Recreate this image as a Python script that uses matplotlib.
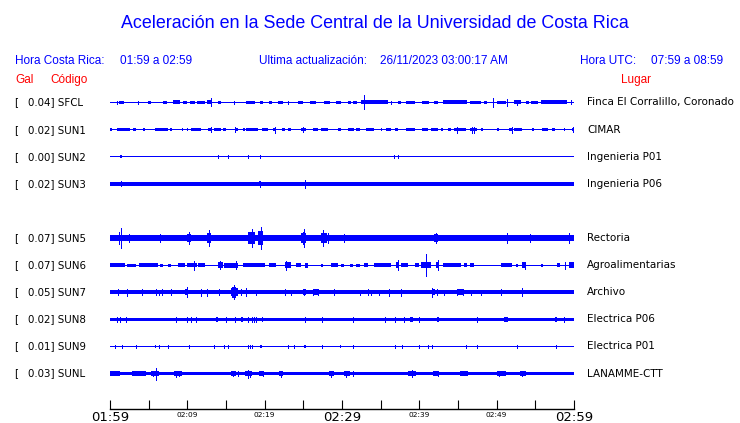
import matplotlib
matplotlib.use("Agg")
import matplotlib.pyplot as plt
import matplotlib.transforms as mtransforms

# --- Estaciones (de arriba hacia abajo, la fila 4 queda vacia) ---
codigos = ["SFCL", "SUN1", "SUN2", "SUN3", "SUN5", "SUN6", "SUN7", "SUN8", "SUN9", "SUNL"]
filas = [0, 1, 2, 3, 5, 6, 7, 8, 9, 10]
gal = [0.04, 0.02, 0.00, 0.02, 0.07, 0.07, 0.05, 0.02, 0.01, 0.03]
lugares = ["Finca El Corralillo, Coronado", "CIMAR", "Ingenieria P01", "Ingenieria P06",
           "Rectoria", "Agroalimentarias", "Archivo", "Electrica P06", "Electrica P01",
           "LANAMME-CTT"]

# amplitud de fondo de cada traza (semi-altura, px)
fondo = [0.5, 0.5, 0.5, 1.8, 2.6, 0.5, 2.0, 1.8, 0.5, 1.8]

# rafagas: (minuto inicio, minuto fin, semi-amplitud)
sfcl_raf = [(1.2, 1.8, 1.8), (4.9, 5.3, 1.8), (6.9, 7.4, 1.8), (8.2, 9.0, 2.0), (9.5, 9.9, 1.8),
            (10.3, 11.0, 1.8), (11.2, 12.3, 1.8), (12.5, 13.2, 2.0), (14.0, 14.3, 1.6),
            (17.6, 18.7, 1.8), (19.4, 19.8, 1.8), (20.5, 20.9, 1.6), (21.7, 22.4, 1.8),
            (24.3, 24.9, 1.8), (25.8, 26.7, 1.8), (27.7, 28.4, 1.6), (29.2, 29.9, 1.8),
            (30.8, 31.2, 1.8), (31.4, 32.0, 1.8), (32.5, 35.9, 2.0), (37.2, 37.6, 1.8),
            (38.3, 39.4, 1.8), (40.4, 41.3, 1.8), (41.9, 42.4, 1.6), (43.0, 46.2, 2.0),
            (46.5, 48.0, 1.8), (48.4, 48.8, 1.6), (50.1, 51.2, 1.8), (52.3, 53.1, 2.0),
            (53.8, 54.2, 1.6), (54.4, 55.3, 1.8), (55.7, 59.1, 2.0)]
sfcl_pic = [(0.9, 1.6), (3.6, 1.6), (13.0, 4.0), (16.0, 1.6), (23.0, 1.6), (32.9, 7.0),
            (36.4, 1.6), (49.5, 4.5), (51.4, 3.5), (52.6, 2.5), (59.6, 2.0)]

sun1_raf = [(0.0, 0.2, 1.6), (0.9, 2.6, 1.6), (3.0, 3.4, 1.6), (4.3, 4.5, 1.6), (5.8, 7.5, 1.6),
            (7.7, 8.0, 1.6), (9.3, 9.5, 1.6), (9.9, 10.1, 1.6), (10.5, 11.8, 1.6),
            (12.7, 13.1, 1.6), (13.5, 14.4, 1.6), (14.6, 15.0, 1.6), (16.1, 16.6, 1.6),
            (17.2, 17.4, 1.6), (17.6, 19.1, 1.6), (19.6, 20.4, 1.6), (21.1, 21.3, 1.6),
            (22.2, 22.6, 1.6), (23.0, 23.4, 1.6), (24.7, 25.4, 1.6), (26.2, 26.9, 1.6),
            (27.3, 28.2, 1.6), (29.5, 29.9, 1.6), (30.8, 31.6, 1.6), (31.8, 32.3, 1.6),
            (33.1, 34.2, 1.6), (35.0, 35.2, 1.6), (35.7, 36.3, 1.6), (36.8, 37.2, 1.6),
            (38.3, 39.4, 1.6), (40.4, 41.1, 1.6), (41.5, 42.4, 1.6), (42.8, 43.0, 1.6),
            (43.7, 44.1, 1.6), (44.5, 46.0, 1.8), (46.5, 47.5, 1.8), (48.0, 48.2, 1.6),
            (50.1, 50.3, 1.6), (51.6, 52.0, 1.6), (52.3, 53.3, 1.6), (54.6, 54.8, 1.6),
            (55.9, 56.6, 1.6), (57.2, 57.6, 1.6), (58.7, 58.9, 1.6), (59.8, 60.0, 1.6)]
sun1_pic = [(13.0, 2.5), (16.2, 2.5), (21.3, 3.0), (25.0, 2.5), (44.9, 3.0), (46.8, 3.0),
            (47.1, 3.0), (52.0, 3.0), (59.9, 2.5)]

sun2_raf = [(1.3, 1.5, 1.5)]
sun2_pic = [(14.0, 1.2), (15.2, 1.2), (17.8, 1.2), (19.4, 1.6), (36.7, 1.2), (37.3, 1.2)]

sun3_raf = [(19.3, 19.5, 2.3)]
sun3_pic = [(1.4, 2.5), (19.4, 3.0), (25.2, 4.0)]

sun5_raf = [(0.0, 2.0, 3.3), (2.2, 3.5, 3.0), (5.8, 7.1, 3.4), (9.9, 10.5, 4.0), (12.5, 13.1, 5.0),
            (16.3, 16.8, 3.3), (17.8, 18.7, 6.0), (19.1, 19.8, 7.0), (20.0, 21.0, 3.3),
            (24.7, 25.4, 5.0), (27.3, 28.0, 5.0), (29.9, 30.5, 3.3), (33.5, 34.0, 3.0),
            (37.3, 38.0, 3.0), (41.9, 42.4, 4.0), (45.3, 45.8, 3.3), (50.7, 51.5, 3.3),
            (53.0, 53.4, 3.3), (59.0, 60.0, 3.3)]
sun5_pic = [(1.4, 10.0), (1.1, 6.0), (2.5, 4.0), (6.5, 4.0), (10.2, 6.0), (12.8, 8.0),
            (18.3, 9.0), (19.5, 11.0), (24.9, 6.0), (25.1, 9.0), (27.5, 8.0), (28.2, 5.0),
            (30.2, 4.0), (42.1, 5.0), (51.4, 5.0), (54.3, 4.0), (59.4, 5.0)]

sun6_raf = [(0.0, 2.0, 1.8), (2.2, 3.4, 1.5), (3.7, 6.2, 1.8), (6.5, 6.9, 1.5), (7.5, 7.9, 1.5),
            (8.8, 9.7, 2.0), (9.9, 11.2, 2.0), (11.4, 12.3, 2.0), (14.0, 14.6, 3.0),
            (14.8, 16.6, 2.5), (17.2, 20.0, 1.8), (20.6, 21.5, 1.8), (22.6, 23.4, 3.0),
            (24.1, 24.7, 2.0), (25.2, 25.6, 2.5), (27.3, 27.5, 1.5), (28.6, 29.5, 2.0),
            (29.9, 30.3, 1.5), (31.0, 31.4, 1.5), (31.8, 32.3, 1.5), (32.9, 33.3, 2.0),
            (34.2, 36.3, 2.0), (37.0, 37.4, 3.0), (37.6, 38.5, 2.0), (39.4, 40.0, 2.0),
            (40.2, 41.5, 3.0), (42.2, 42.6, 3.0), (43.0, 45.4, 1.8), (45.8, 46.2, 1.8),
            (46.5, 47.1, 1.8), (50.5, 52.0, 2.0), (52.5, 52.7, 1.5), (53.3, 53.8, 3.0),
            (55.7, 56.0, 1.5), (57.8, 58.2, 2.0), (59.4, 60.0, 3.0)]
sun6_pic = [(10.9, 4.5), (14.2, 4.0), (16.3, 4.0), (22.8, 4.5), (37.2, 5.0), (40.9, 11.0),
            (42.4, 5.0), (53.6, 3.5), (58.9, 3.5)]

sun7_raf = [(9.7, 10.1, 3.0), (15.6, 16.5, 4.0), (15.8, 16.3, 5.5), (25.0, 25.3, 2.8),
            (26.2, 26.9, 2.8), (41.6, 42.0, 3.0), (44.9, 45.6, 2.8)]
sun7_pic = [(1.0, 3.0), (2.2, 3.5), (4.1, 3.0), (6.0, 3.0), (6.4, 2.5), (6.7, 3.0), (7.9, 3.0),
            (9.9, 5.0), (11.8, 3.5), (12.5, 3.5), (14.1, 3.0), (16.0, 7.0), (16.9, 3.0),
            (17.6, 4.0), (18.9, 2.5), (22.6, 3.0), (23.4, 2.5), (25.1, 3.0), (26.2, 3.0),
            (26.9, 3.0), (29.0, 3.0), (32.3, 2.5), (33.4, 3.0), (33.7, 2.5), (34.8, 2.5),
            (36.1, 3.5), (37.6, 3.5), (41.7, 4.5), (42.3, 3.0), (43.2, 2.5), (44.9, 3.0),
            (45.6, 3.0), (46.7, 2.5), (48.0, 2.5), (50.5, 3.0), (53.3, 4.0)]

sun8_raf = [(13.7, 14.0, 2.4), (17.0, 17.2, 2.4), (19.6, 19.8, 2.4), (38.8, 39.2, 2.4),
            (42.3, 42.6, 2.4), (51.0, 51.5, 2.4), (57.6, 57.8, 2.4)]
sun8_pic = [(0.9, 2.6), (1.3, 2.6), (2.1, 2.6), (8.5, 2.4), (10.0, 2.6), (10.5, 2.6),
            (11.1, 2.6), (15.0, 2.6), (16.2, 2.4), (17.9, 2.6), (18.3, 2.6), (18.6, 2.6),
            (18.9, 2.6), (25.2, 2.6), (27.4, 2.6), (31.4, 2.6), (35.6, 2.4), (36.8, 2.6),
            (38.0, 2.6), (40.0, 2.6), (47.4, 2.4), (58.7, 2.6)]

sun9_raf = [(5.8, 6.0, 1.6), (19.4, 19.6, 1.6), (25.1, 25.3, 1.6), (29.7, 29.9, 1.6)]
sun9_pic = [(0.7, 1.5), (1.5, 1.5), (3.4, 1.5), (6.3, 1.5), (7.5, 1.5), (10.2, 1.2),
            (13.5, 1.2), (14.8, 1.5), (15.2, 1.5), (17.8, 1.2), (18.1, 1.2), (18.4, 1.5),
            (23.0, 1.5), (23.8, 1.2), (27.4, 1.2), (31.4, 1.5), (36.8, 1.5), (37.8, 1.2),
            (39.9, 1.2), (41.1, 1.2), (41.6, 1.5), (46.0, 1.2), (47.5, 1.5), (52.6, 1.2),
            (57.7, 1.5)]

sunl_raf = [(0.0, 1.3, 2.6), (2.8, 4.6, 2.6), (5.3, 6.3, 2.6), (8.3, 9.3, 2.6), (15.6, 16.3, 2.6),
            (17.5, 18.4, 2.6), (19.3, 19.8, 2.6), (21.8, 22.4, 2.6), (28.3, 29.0, 2.6),
            (30.2, 31.0, 2.6), (38.5, 39.6, 2.6), (41.8, 42.5, 2.6), (45.2, 46.3, 2.6),
            (50.0, 51.2, 2.6), (53.0, 53.8, 2.6)]
sunl_pic = [(5.6, 2.8), (5.9, 6.0), (8.5, 3.0), (8.9, 2.8), (15.9, 2.8), (16.5, 2.8),
            (17.8, 4.0), (18.1, 3.0), (19.8, 2.8), (22.1, 3.0), (28.6, 3.0), (30.5, 3.0),
            (31.4, 2.8), (39.0, 3.5), (42.4, 2.8), (50.3, 2.8), (53.3, 2.8)]

rafagas = [sfcl_raf, sun1_raf, sun2_raf, sun3_raf, sun5_raf, sun6_raf, sun7_raf, sun8_raf,
           sun9_raf, sunl_raf]
picos = [sfcl_pic, sun1_pic, sun2_pic, sun3_pic, sun5_pic, sun6_pic, sun7_pic, sun8_pic,
         sun9_pic, sunl_pic]

# eje de tiempo
minutos_ticks = [0, 10, 20, 30, 40, 50, 60]
etiquetas_ticks = ["01:59", "02:09", "02:19", "02:29", "02:39", "02:49", "02:59"]
etiquetas_grandes = ["01:59", "02:29", "02:59"]

AZUL = "#0000ff"
ROJO = "#ff0000"
SEP = 27.1  # separacion entre trazas

fig = plt.figure(figsize=(7.4, 4.23), dpi=100)
ax = fig.add_axes([110 / 740, 1 - 409 / 423, 464 / 740, 321 / 423])
ax.set_xlim(0, 60)
ax.set_ylim(306.5, -14.5)

for fila, base, raf, pic in zip(filas, fondo, rafagas, picos):
    y = fila * SEP
    ax.fill_between([0, 60], y - base, y + base, color=AZUL, lw=0, antialiased=False)
    for t0, t1, a in raf:
        ax.fill_between([t0, t1], y - a, y + a, color=AZUL, lw=0, antialiased=False)
    for t, a in pic:
        ax.vlines(t, y - a, y + a, color=AZUL, lw=0.72, antialiased=False)

# etiquetas de estacion
trans = mtransforms.blended_transform_factory(fig.transFigure, ax.transData)
for fila, cod, g, lug in zip(filas, codigos, gal, lugares):
    y = fila * SEP
    ax.text(14 / 740, y, "[", transform=trans, ha="left", va="center", fontsize=7.4)
    ax.text(28 / 740, y, f"{g:.2f}] {cod}", transform=trans, ha="left", va="center",
            fontsize=7.4)
    ax.text(587 / 740, y, lug, transform=trans, ha="left", va="center", fontsize=7.5)

# eje inferior
for s in ["top", "left", "right"]:
    ax.spines[s].set_visible(False)
ax.spines["bottom"].set_linewidth(1.0)
ax.set_yticks([])
ax.set_xticks(minutos_ticks)
ax.set_xticks([5, 15, 25, 35, 45, 55], minor=True)
ax.set_xticklabels([])
ax.tick_params(axis="x", which="both", direction="in", length=6.5, width=0.8)

trans_x = mtransforms.blended_transform_factory(ax.transData, fig.transFigure)
for m, lab in zip(minutos_ticks, etiquetas_ticks):
    if lab in etiquetas_grandes:
        ax.text(m, 1 - 417 / 423, lab, transform=trans_x, ha="center", va="center",
                fontsize=9.5, clip_on=False)
    else:
        ax.text(m, 1 - 415 / 423, lab, transform=trans_x, ha="center", va="center",
                fontsize=5.3, clip_on=False)

# encabezados
fam = "Liberation Sans"
fig.text(375 / 740, 1 - 28.5 / 423, "Aceleración en la Sede Central de la Universidad de Costa Rica",
         ha="center", va="baseline", color=AZUL, fontsize=12.9, family=fam)
yh = 1 - 64 / 423
fig.text(15 / 740, yh, "Hora Costa Rica:", color=AZUL, fontsize=8.5, family=fam, va="baseline")
fig.text(120 / 740, yh, "01:59 a 02:59", color=AZUL, fontsize=8.5, family=fam, va="baseline")
fig.text(259 / 740, yh, "Ultima actualización:", color=AZUL, fontsize=8.5, family=fam, va="baseline")
fig.text(380 / 740, yh, "26/11/2023 03:00:17 AM", color=AZUL, fontsize=8.5, family=fam, va="baseline")
fig.text(580 / 740, yh, "Hora UTC:", color=AZUL, fontsize=8.5, family=fam, va="baseline")
fig.text(651 / 740, yh, "07:59 a 08:59", color=AZUL, fontsize=8.5, family=fam, va="baseline")
yg = 1 - 83 / 423
fig.text(15 / 740, yg, "Gal", color=ROJO, fontsize=8.5, family=fam, va="baseline")
fig.text(50 / 740, yg, "Código", color=ROJO, fontsize=8.5, family=fam, va="baseline")
fig.text(621 / 740, yg, "Lugar", color=ROJO, fontsize=8.5, family=fam, va="baseline")

fig.savefig("out.png", dpi=100)
